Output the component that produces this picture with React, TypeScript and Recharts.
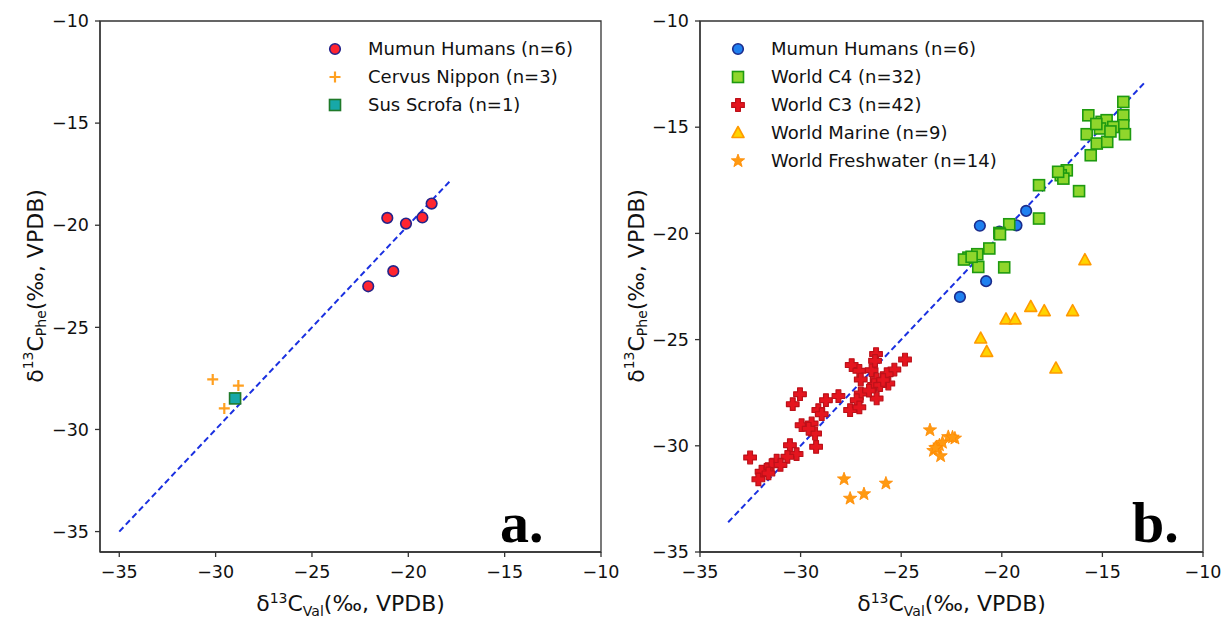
import { ScatterChart, Scatter, XAxis, YAxis, ReferenceLine, ReferenceArea, Label } from "recharts"

// panel a
const humanX = [-18.79, -21.09, -20.12, -19.27, -20.78, -22.08]
const humanY = [-18.94, -19.64, -19.92, -19.62, -22.25, -22.99]
const cervusX = [-30.15, -28.82, -29.55]
const cervusY = [-27.55, -27.85, -28.97]
const susX = [-28.99]
const susY = [-28.48]

// panel b
const c4X = [-13.96, -13.96, -13.96, -13.88, -15.7, -15.04, -14.79, -14.46, -15.12, -15.78, -15.28, -14.76, -15.58, -16.77, -17.07, -16.94, -16.16, -18.15, -18.15, -19.63, -20.12, -20.62, -21.22, -21.66, -21.88, -21.17, -19.88, -20.09, -21.5, -15.3, -14.6, -17.2]
const c4Y = [-13.81, -14.44, -14.91, -15.33, -14.44, -14.75, -14.67, -14.99, -15.06, -15.33, -15.77, -15.69, -16.32, -17.03, -17.26, -17.42, -18.01, -17.73, -19.3, -19.57, -19.98, -20.71, -20.98, -21.14, -21.23, -21.58, -21.6, -20.04, -21.1, -14.85, -15.2, -17.1]
const c3X = [-26.25, -24.81, -27.46, -27.08, -26.47, -25.34, -25.72, -27.01, -26.22, -25.64, -26.35, -26.05, -30.03, -30.39, -28.74, -28.12, -27.01, -27.21, -26.22, -27.54, -27.08, -29.12, -28.95, -29.95, -29.45, -29.28, -30.53, -29.23, -32.51, -30.2, -30.66, -31.19, -31.44, -31.69, -31.94, -32.1, -31.6, -26.3, -26.6, -25.9, -31.0, -29.6]
const c3Y = [-25.68, -25.94, -26.2, -26.47, -26.44, -26.41, -26.63, -26.88, -26.88, -27.07, -27.14, -27.14, -27.57, -28.04, -27.85, -27.66, -27.54, -27.85, -27.77, -28.32, -28.19, -28.32, -28.51, -29.03, -28.95, -29.42, -29.97, -30.05, -30.55, -30.39, -30.52, -30.7, -30.91, -31.14, -31.22, -31.58, -31.3, -26.0, -27.4, -26.9, -30.9, -29.2]
const marineX = [-15.87, -18.56, -17.89, -16.48, -19.79, -19.34, -21.05, -20.75, -17.31]
const marineY = [-21.26, -23.46, -23.66, -23.66, -24.05, -24.05, -24.95, -25.58, -26.36]
const freshX = [-23.57, -22.66, -22.33, -23.1, -23.4, -23.04, -23.24, -22.95, -22.45, -23.3, -27.84, -25.76, -26.85, -27.54]
const freshY = [-29.26, -29.58, -29.65, -29.97, -30.23, -30.48, -30.08, -29.85, -29.6, -30.1, -31.57, -31.77, -32.27, -32.48]

const ticks = [-35, -30, -25, -20, -15, -10]
const lineA = [-35, -17.8]
const lineB = [-33.6, -12.9]

const legendA = ["Mumun Humans (n=6)", "Cervus Nippon (n=3)", "Sus Scrofa (n=1)"]
const legendB = ["Mumun Humans (n=6)", "World C4 (n=32)", "World C3 (n=42)", "World Marine (n=9)", "World Freshwater (n=14)"]

const pts = (xs: number[], ys: number[]) => xs.map((x, i) => ({ x, y: ys[i] }))

const FONT = "'DejaVu Sans', sans-serif"
const AXIS = "#333"
const DASH = "#1a30e0"

type Mk = (cx: number, cy: number) => any

const circle = (fill: string, stroke: string): Mk => (cx, cy) => (
    <circle cx={cx} cy={cy} r={5.3} fill={fill} stroke={stroke} strokeWidth={1.6} />
)
const square = (fill: string, stroke: string): Mk => (cx, cy) => (
    <rect x={cx - 5.5} y={cy - 5.5} width={11} height={11} fill={fill} stroke={stroke} strokeWidth={1.6} />
)
const plus = (color: string): Mk => (cx, cy) => (
    <path d={`M${cx - 5.5} ${cy}H${cx + 5.5}M${cx} ${cy - 5.5}V${cy + 5.5}`} stroke={color} strokeWidth={2.2} fill="none" />
)
const fatPlus = (fill: string, stroke: string): Mk => (cx, cy) => {
    const a = 2.4, b = 6.3
    const d = `M${cx - a} ${cy - b}H${cx + a}V${cy - a}H${cx + b}V${cy + a}H${cx + a}V${cy + b}H${cx - a}V${cy + a}H${cx - b}V${cy - a}H${cx - a}Z`
    return <path d={d} fill={fill} stroke={stroke} strokeWidth={1.2} strokeLinejoin="round" />
}
const triangle = (fill: string, stroke: string): Mk => (cx, cy) => (
    <polygon points={`${cx},${cy - 6.5} ${cx + 6},${cy + 4.5} ${cx - 6},${cy + 4.5}`} fill={fill} stroke={stroke} strokeWidth={1.6} strokeLinejoin="round" />
)
const star = (fill: string, stroke: string): Mk => (cx, cy) => {
    const p: string[] = []
    for (let i = 0; i < 10; i++) {
        const r = i % 2 === 0 ? 7 : 2.9
        const ang = -Math.PI / 2 + (i * Math.PI) / 5
        p.push(`${cx + r * Math.cos(ang)},${cy + r * Math.sin(ang)}`)
    }
    return <polygon points={p.join(" ")} fill={fill} stroke={stroke} strokeWidth={0.8} />
}

const mkHumanA = circle("#ff2530", "#24248a")
const mkCervus = plus("#ffa020")
const mkSus = square("#17a8a8", "#1f7a2a")
const mkHumanB = circle("#1f80f0", "#1b2c8c")
const mkC4 = square("#8fd62c", "#1e9a10")
const mkC3 = fatPlus("#e5151f", "#bd1119")
const mkMarine = triangle("#ffd400", "#ff9a00")
const mkFresh = star("#ff9a12", "#ff8a00")

const fmt = (v: number) => String(v).replace("-", "\u2212")

function XLabel({ viewBox }: any) {
    const cx = viewBox.x + viewBox.width / 2
    return (
        <text x={cx} y={611} textAnchor="middle" fontFamily={FONT} fontSize={22} fill="#111">
            δ<tspan dy={-8} fontSize={14}>13</tspan>
            <tspan dy={8}>C</tspan>
            <tspan dy={5} fontSize={14}>Val</tspan>
            <tspan dy={-5}>(‰, VPDB)</tspan>
        </text>
    )
}

function YLabel(x: number) {
    return () => {
        const cy = 286
        return (
            <text x={x} y={cy} transform={`rotate(-90, ${x}, ${cy})`} textAnchor="middle" fontFamily={FONT} fontSize={22} fill="#111" dominantBaseline="middle">
                δ<tspan dy={-8} fontSize={14}>13</tspan>
                <tspan dy={8}>C</tspan>
                <tspan dy={5} fontSize={14}>Phe</tspan>
                <tspan dy={-5}>(‰, VPDB)</tspan>
            </text>
        )
    }
}

function LegendBox({ items, marks, left }: { items: string[]; marks: Mk[]; left: number }) {
    return (
        <div style={{ position: "absolute", left, top: 34, fontFamily: FONT, fontSize: 18, color: "#111" }}>
            {items.map((t, i) => (
                <div key={t} style={{ display: "flex", alignItems: "center", height: 28 }}>
                    <svg width={20} height={20} style={{ marginRight: 23 }}>{marks[i](10, 11)}</svg>
                    <span>{t}</span>
                </div>
            ))}
        </div>
    )
}

const axisProps = {
    type: "number" as const,
    ticks,
    tickFormatter: fmt,
    axisLine: { stroke: AXIS, strokeWidth: 1.3 },
    tickLine: { stroke: AXIS, strokeWidth: 1.3 },
    tickSize: 5,
    tick: { fill: "#111", fontSize: 17.5, fontFamily: FONT },
    allowDataOverflow: true,
}

export default function App() {
    return (
        <div style={{ position: "absolute", left: 0, top: 0, width: 1223, height: 619, background: "#fff", overflow: "hidden" }}>
            <div style={{ position: "absolute", left: 0, top: 0 }}>
                <ScatterChart width={640} height={619} margin={{ top: 21, right: 39, bottom: 0, left: 0 }}>
                    <XAxis {...axisProps} dataKey="x" domain={[-36, -10]} height={67} tickMargin={9}>
                        <Label content={XLabel} />
                    </XAxis>
                    <YAxis {...axisProps} dataKey="y" domain={[-36, -10]} width={100} tickMargin={6}>
                        <Label content={YLabel(37)} />
                    </YAxis>
                    <ReferenceArea x1={-36} x2={-10} y1={-36} y2={-10} fill="none" stroke={AXIS} strokeWidth={1.3} />
                    <Scatter name={legendA[0]} data={pts(humanX, humanY)} shape={(p: any) => mkHumanA(p.cx, p.cy)} isAnimationActive={false} />
                    <Scatter name={legendA[1]} data={pts(cervusX, cervusY)} shape={(p: any) => mkCervus(p.cx, p.cy)} isAnimationActive={false} />
                    <Scatter name={legendA[2]} data={pts(susX, susY)} shape={(p: any) => mkSus(p.cx, p.cy)} isAnimationActive={false} />
                    <ReferenceLine segment={[{ x: lineA[0], y: lineA[0] }, { x: lineA[1], y: lineA[1] }]} stroke={DASH} strokeWidth={2} strokeDasharray="6 3.5" />
                </ScatterChart>
            </div>
            <div style={{ position: "absolute", left: 611, top: 0 }}>
                <ScatterChart width={612} height={619} margin={{ top: 21, right: 20, bottom: 0, left: 0 }}>
                    <XAxis {...axisProps} dataKey="x" domain={[-35, -10]} height={67} tickMargin={9}>
                        <Label content={XLabel} />
                    </XAxis>
                    <YAxis {...axisProps} dataKey="y" domain={[-35, -10]} width={89} tickMargin={6}>
                        <Label content={YLabel(27)} />
                    </YAxis>
                    <ReferenceArea x1={-35} x2={-10} y1={-35} y2={-10} fill="none" stroke={AXIS} strokeWidth={1.3} />
                    <Scatter name={legendB[2]} data={pts(c3X, c3Y)} shape={(p: any) => mkC3(p.cx, p.cy)} isAnimationActive={false} />
                    <Scatter name={legendB[3]} data={pts(marineX, marineY)} shape={(p: any) => mkMarine(p.cx, p.cy)} isAnimationActive={false} />
                    <Scatter name={legendB[4]} data={pts(freshX, freshY)} shape={(p: any) => mkFresh(p.cx, p.cy)} isAnimationActive={false} />
                    <Scatter name={legendB[0]} data={pts(humanX, humanY)} shape={(p: any) => mkHumanB(p.cx, p.cy)} isAnimationActive={false} />
                    <Scatter name={legendB[1]} data={pts(c4X, c4Y)} shape={(p: any) => mkC4(p.cx, p.cy)} isAnimationActive={false} />
                    <ReferenceLine segment={[{ x: lineB[0], y: lineB[0] }, { x: lineB[1], y: lineB[1] }]} stroke={DASH} strokeWidth={2} strokeDasharray="6 3.5" />
                </ScatterChart>
            </div>
            <LegendBox items={legendA} marks={[mkHumanA, mkCervus, mkSus]} left={325} />
            <LegendBox items={legendB} marks={[mkHumanB, mkC4, mkC3, mkMarine, mkFresh]} left={728} />
            <div style={{ position: "absolute", left: 500, top: 494, fontFamily: "'Liberation Serif', serif", fontWeight: 700, fontSize: 58, lineHeight: 1 }}>a.</div>
            <div style={{ position: "absolute", left: 1132, top: 494, fontFamily: "'Liberation Serif', serif", fontWeight: 700, fontSize: 58, lineHeight: 1 }}>b.</div>
        </div>
    )
}
